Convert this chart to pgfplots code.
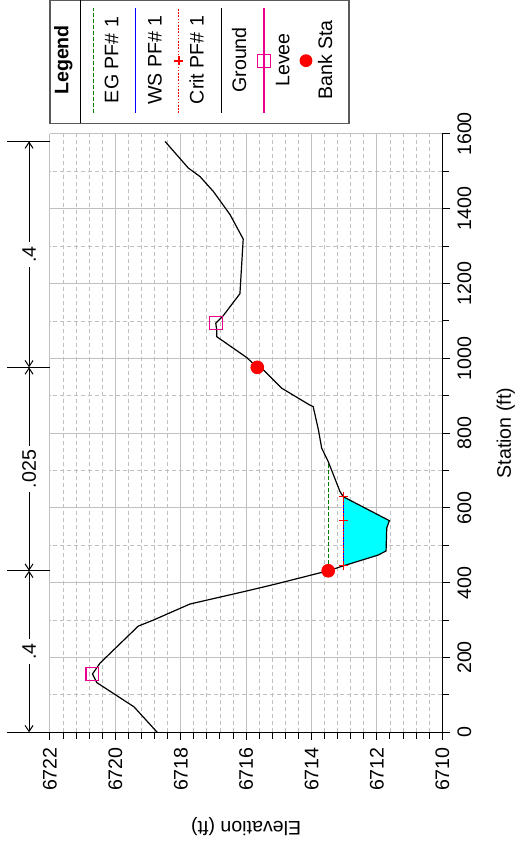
\documentclass[border=0pt]{standalone}
\usepackage{pgfplots}
\pgfplotsset{compat=1.18}
\usepackage{fontspec}
\setmainfont{Liberation Sans}
\usetikzlibrary{arrows.meta}
\definecolor{egc}{RGB}{0,128,0}
\definecolor{gridc}{RGB}{192,192,192}
\definecolor{wsfill}{RGB}{0,255,255}
\begin{document}
\begin{tikzpicture}[x=0.5pt,y=0.5pt,rotate=90,transform shape,font=\fontsize{9.8}{11.8}\selectfont]
\useasboundingbox (0,0) rectangle (849,521);
\begin{axis}[
  at={(58.35pt,39.35pt)}, anchor=south west,
  scale only axis, width=299.15pt, height=196.15pt,
  xmin=0, xmax=1600, ymin=6710, ymax=6722,
  xtick={0,200,...,1600}, ytick={6710,6712,...,6722},
  minor xtick={100,300,...,1500},
  minor ytick={6710.4,6710.8,6711.2,6711.6,6712.4,6712.8,6713.2,6713.6,6714.4,6714.8,6715.2,6715.6,6716.4,6716.8,6717.2,6717.6,6718.4,6718.8,6719.2,6719.6,6720.4,6720.8,6721.2,6721.6},
  grid=both,
  major grid style={draw=gridc, line width=0.5pt},
  minor grid style={draw=gridc, dash pattern=on 2pt off 1.5pt, line width=0.45pt},
  axis lines*=left,
  axis line style={line width=0.65pt, black},
  tick align=outside,
  major tick length=4pt, minor tick length=3.2pt,
  every tick/.style={black, line width=0.5pt},
  font=\fontsize{9.8}{11.8}\selectfont,
  ticklabel style={font=\fontsize{9.8}{11.8}\selectfont},
  /pgf/number format/assume math mode=true,
  /pgf/number format/1000 sep={},
  xlabel={Station (ft)}, ylabel={Elevation (ft)},
  every axis x label/.style={at={(axis description cs:0.5,0)}, yshift=-31.8pt, anchor=center},
  every axis y label/.style={at={(axis description cs:0,0.5)}, xshift=-47.3pt, rotate=90, anchor=center},
  clip=false,
]
% water fill
\addplot[fill=wsfill, draw=none] coordinates {
 (445,6713.03) (474,6711.96) (485,6711.72) (546,6711.70) (566,6711.62) (630,6713.03)
} -- cycle;
% EG
\addplot[egc, line width=0.5pt, dash pattern=on 2pt off 1pt] coordinates {(433,6713.49) (726,6713.49)};
% WS
\addplot[blue, line width=0.6pt] coordinates {(445,6713.03) (630,6713.03)};
% Crit
\addplot[red, line width=0.5pt, dash pattern=on 0.8pt off 0.8pt, mark=+, mark size=2.2pt, mark options={solid, line width=0.6pt}] coordinates {(445,6713.03) (566,6713.03) (630,6713.03)};
% Ground
\addplot[black, line width=0.6pt] coordinates {
 (0,6718.72) (68,6719.43) (133,6720.57) (156,6720.70) (185,6720.47) (284,6719.30)
 (300,6718.84) (343,6717.72) (378,6715.98) (397,6715.07) (432,6713.49) (445,6713.03)
 (474,6711.96) (485,6711.72) (546,6711.70) (566,6711.62) (630,6713.03) (644,6713.13)
 (724,6713.49) (760,6713.69) (809,6713.79) (871,6713.95) (875,6714.05) (920,6714.91)
 (969,6715.47) (976,6715.66) (1002,6715.98) (1058,6716.90) (1076,6716.90) (1094,6716.93)
 (1112,6716.72) (1173,6716.19) (1319,6716.09) (1384,6716.49) (1446,6717.00) (1486,6717.41)
 (1509,6717.77) (1580,6718.48)
};
% Levee
\addplot[only marks, magenta, mark=square, mark size=3.2pt, mark options={line width=0.6pt}] coordinates {(156,6720.70) (1094,6716.93)};
% Bank stations
\addplot[only marks, red, mark=*, mark size=3.2pt] coordinates {(432,6713.49) (976,6715.66)};
% Manning's n annotation
\draw[line width=0.65pt] (axis cs:0,6722) -- (axis cs:0,6723.32);
\draw[line width=0.65pt] (axis cs:432,6722) -- (axis cs:432,6723.32);
\draw[line width=0.65pt] (axis cs:976,6722) -- (axis cs:976,6723.32);
\draw[line width=0.65pt] (axis cs:1580,6722) -- (axis cs:1580,6723.32);
\draw[line width=0.5pt, {Straight Barb[length=3pt,width=4pt]}-{Straight Barb[length=3pt,width=4pt]}] (axis cs:0,6722.64) -- (axis cs:432,6722.64);
\draw[line width=0.5pt, {Straight Barb[length=3pt,width=4pt]}-{Straight Barb[length=3pt,width=4pt]}] (axis cs:432,6722.64) -- (axis cs:976,6722.64);
\draw[line width=0.5pt, {Straight Barb[length=3pt,width=4pt]}-{Straight Barb[length=3pt,width=4pt]}] (axis cs:976,6722.64) -- (axis cs:1580,6722.64);
\node[fill=white, inner sep=2pt] at (axis cs:216,6722.64) {.4};
\node[fill=white, inner sep=2pt] at (axis cs:704,6722.64) {.025};
\node[fill=white, inner sep=2pt] at (axis cs:1278,6722.64) {.4};
\end{axis}
% legend
\draw[black!65, line width=0.6pt, fill=white] (725.7,172) rectangle (848.5,471);
\draw[black, line width=0.6pt] (725.7,440.3) -- (848.5,440.3);
\node[font=\fontsize{9.8}{11.8}\selectfont\bfseries] at (789,457.7) {Legend};
\draw[egc, line width=0.5pt, dash pattern=on 2pt off 1pt] (736,427.7) -- (841,427.7);
\node at (789,409.3) {EG PF\# 1};
\draw[blue, line width=0.6pt] (736,385.3) -- (841,385.3);
\node at (789,366) {WS PF\# 1};
\draw[red, line width=0.5pt, dash pattern=on 0.8pt off 0.8pt] (736,342) -- (841,342);
\draw[red, line width=0.6pt] (783.5,342) -- (792.5,342) (788,337.5) -- (788,346.5);
\node at (789,324.3) {Crit PF\# 1};
\draw[black, line width=0.6pt] (736,299.3) -- (841,299.3);
\node at (789,282) {Ground};
\draw[magenta, line width=0.6pt] (736,257) -- (841,257);
\draw[magenta, line width=0.6pt] (781.6,250.6) rectangle (794.4,263.4);
\node at (789,238.3) {Levee};
\fill[red] (788.3,215) circle (6.4);
\node at (789,196) {Bank Sta};
\end{tikzpicture}
\end{document}
